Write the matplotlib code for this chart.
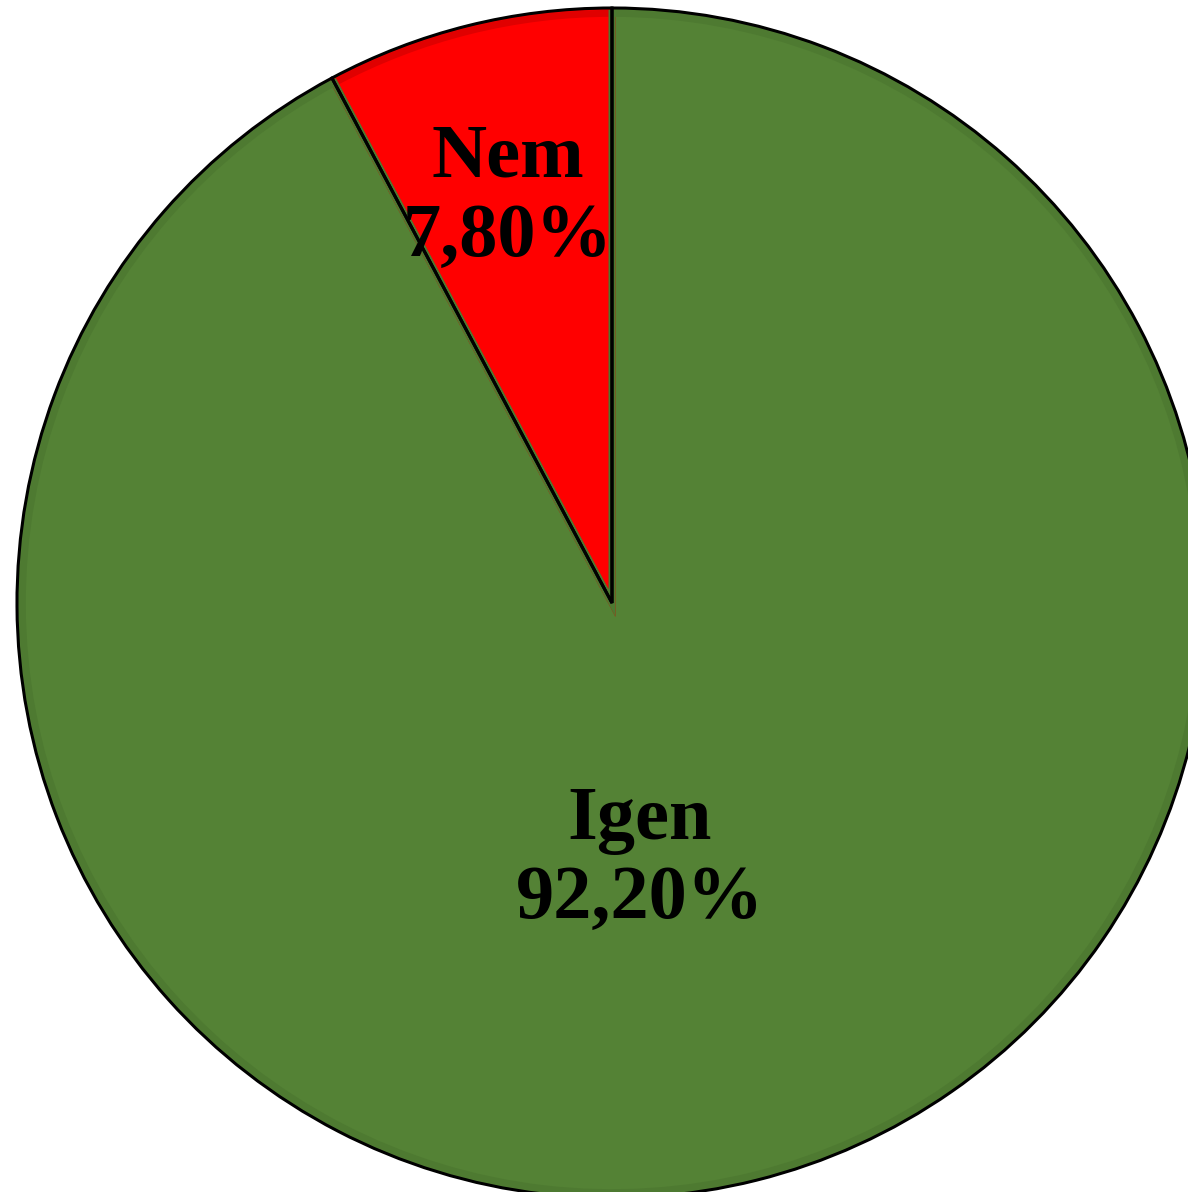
import matplotlib
matplotlib.use("Agg")
import matplotlib.pyplot as plt

categories = ["Igen", "Nem"]
values = [92.20, 7.80]
value_labels = ["92,20%", "7,80%"]
colors = ["#548235", "#FF0000"]
inner_edge = ["#4E7A31", "#E00000"]

W, H, DPI = 1188, 1192, 100
fig = plt.figure(figsize=(W / DPI, H / DPI), dpi=DPI)
ax = fig.add_axes([0, 0, 1, 1])
cx, cy, R = 612, 603, 595
ax.axis("off")

# plot order: Nem first counterclockwise from 90 deg
order = [1, 0]
wedges, _ = ax.pie([values[i] for i in order], colors=[colors[i] for i in order],
                   startangle=90, counterclock=True, radius=1.0,
                   wedgeprops=dict(edgecolor="none", linewidth=0))
for w in wedges:
    w.set_zorder(1)
wedges2, _ = ax.pie([values[i] for i in order], colors=["none", "none"],
                    startangle=90, counterclock=True, radius=0.991,
                    wedgeprops=dict(linewidth=5, fill=False))
for w, i in zip(wedges2, order):
    w.set_edgecolor(inner_edge[i])
    w.set_zorder(1.5)
wedges3, _ = ax.pie([values[i] for i in order], colors=["none", "none"],
                    startangle=90, counterclock=True, radius=1.0,
                    wedgeprops=dict(edgecolor="black", linewidth=2.2, fill=False))
for w in wedges3:
    w.set_zorder(2)
ax.set_aspect("auto")
ax.set_xlim(-cx / R, (W - cx) / R)
ax.set_ylim((cy - H) / R, cy / R)

label_pos = {"Nem": ((508 - cx) / R, (cy - 198) / R), "Igen": ((640 - cx) / R, (cy - 860) / R)}
for cat, vl in zip(categories, value_labels):
    x, y = label_pos[cat]
    ax.text(x, y, f"{cat}\n{vl}", ha="center", va="center", fontsize=55,
            fontweight="bold", family="Liberation Serif", linespacing=1.2,
            color="black", zorder=5)

fig.savefig("out.png", dpi=DPI, facecolor="white")
